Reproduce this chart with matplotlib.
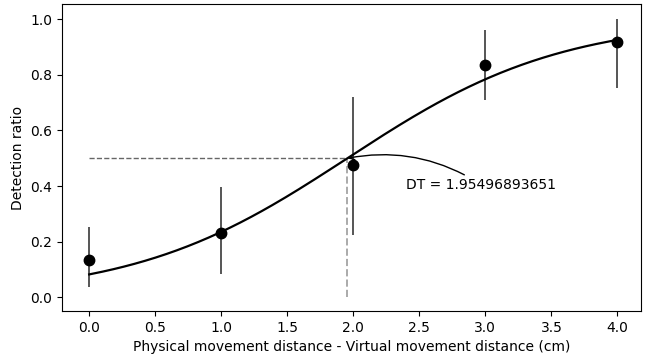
import numpy as np
import matplotlib
matplotlib.use("Agg")
import matplotlib.pyplot as plt

# dados
distancias = [0.0, 1.0, 2.0, 3.0, 4.0]
proporcao = [0.135, 0.230, 0.475, 0.835, 0.918]
erro_baixo = [0.037, 0.085, 0.225, 0.709, 0.754]
erro_alto = [0.252, 0.398, 0.722, 0.960, 1.001]

# parâmetros da curva logística ajustada
dt = 1.95496893651
escala = 0.81

fig = plt.figure(figsize=(6.47, 3.56), dpi=100)
ax = fig.add_axes([0.096, 0.126, 0.895, 0.862])

x_curva = np.linspace(0, 4, 200)
y_curva = 1.0 / (1.0 + np.exp(-(x_curva - dt) / escala))

yerr = [np.array(proporcao) - np.array(erro_baixo),
        np.array(erro_alto) - np.array(proporcao)]
ax.errorbar(distancias, proporcao, yerr=yerr, fmt="none", ecolor="#555555",
            elinewidth=1.4, zorder=2)
ax.plot(distancias, proporcao, "o", color="black", markersize=7.5, zorder=4)
ax.plot(x_curva, y_curva, color="black", linewidth=1.6, zorder=3)

# linhas tracejadas do limiar
ax.plot([0, dt], [0.5, 0.5], linestyle="--", color="#666666", linewidth=1.0, zorder=1)
ax.plot([dt, dt], [0, 0.5], linestyle="--", color="#aaaaaa", linewidth=1.4, zorder=1)

ax.annotate(f"DT = {dt}", xy=(dt, 0.5), xytext=(2.4, 0.38),
            fontsize=10, ha="left", va="bottom",
            arrowprops=dict(arrowstyle="->", color="black", linewidth=1.0,
                            connectionstyle="arc3,rad=0.2", shrinkA=0, shrinkB=0))

ax.set_xlim(-0.205, 4.18)
ax.set_ylim(-0.05, 1.054)
ax.set_xticks(np.arange(0, 4.01, 0.5))
ax.set_xticklabels([f"{v:.1f}" for v in np.arange(0, 4.01, 0.5)])
ax.set_yticks(np.arange(0, 1.01, 0.2))
ax.set_yticklabels([f"{v:.1f}" for v in np.arange(0, 1.01, 0.2)])
ax.tick_params(labelsize=10)
ax.set_xlabel("Physical movement distance - Virtual movement distance (cm)", fontsize=10)
ax.set_ylabel("Detection ratio", fontsize=10)

plt.savefig("out.png", dpi=100)
